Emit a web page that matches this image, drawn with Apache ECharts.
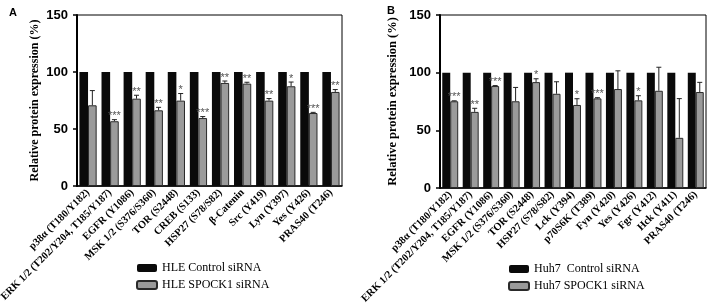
<!DOCTYPE html>
<html>
<head>
<meta charset="utf-8">
<script src="https://cdn.jsdelivr.net/npm/echarts@6/dist/echarts.min.js"></script>
<style>
  html, body { margin: 0; padding: 0; background: #fff; }
  #chart { width: 708px; height: 308px; }
</style>
</head>
<body>
<div id="chart"></div>
<script>
// panel A - HLE
var catsA = ['p38α (T180/Y182)', 'ERK 1/2 (T202/Y204, T185/Y187)', 'EGFR (Y1086)', 'MSK 1/2 (S376/S360)',
  'TOR (S2448)', 'CREB (S133)', 'HSP27 (S78/S82)', 'β-Catenin', 'Src (Y419)', 'Lyn (Y397)', 'Yes (Y426)', 'PRAS40 (T246)']
var ctrlA = [100, 100, 100, 100, 100, 100, 100, 100, 100, 100, 100, 100]
var kdA = [70.8, 56.8, 76.6, 66.4, 74.9, 59.6, 90.4, 89.8, 74.9, 87.5, 64, 82.5]
var errA = [12.9, 1.4, 3.0, 2.6, 6.2, 1.3, 1.7, 1.2, 1.8, 3.7, 0.6, 2.1]
var sigA = ['', '***', '**', '**', '*', '***', '**', '**', '**', '*', '***', '**']

// panel B - Huh7
var catsB = ['p38α (T180/Y182)', 'ERK 1/2 (T202/Y204, T185/Y187)', 'EGFR (Y1086)', 'MSK 1/2 (S376/S360)',
  'TOR (S2448)', 'HSP27 (S78/S82)', 'Lck (Y394)', 'p70S6K (T389)', 'Fyn (Y420)', 'Yes (Y426)',
  'Fgr (Y412)', 'Hck (Y411)', 'PRAS40 (T246)']
var ctrlB = [100, 100, 100, 100, 100, 100, 100, 100, 100, 100, 100, 100, 100]
var kdB = [75.2, 66, 88.4, 75.2, 91.8, 81.7, 72, 77.7, 85.8, 76, 84.3, 43.5, 83.2]
var errB = [0.4, 3.1, 0.4, 12, 2.9, 10.4, 5.4, 0.6, 15.8, 4, 20.4, 34, 8.4]
var sigB = ['***', '**', '***', '', '*', '', '*', '***', '', '*', '', '', '']

var ticks = [0, 50, 100, 150]

var gapPct = 0.22
var serif = '"Liberation Serif", "Times New Roman", serif'
var sans = '"Liberation Sans", Arial, sans-serif'

function errSeries(idx, vals, errs, sigs) {
  return {
    type: 'custom',
    xAxisIndex: idx,
    yAxisIndex: idx,
    z: 5,
    data: vals.map(function (v, i) { return [i, v, v + errs[i]] }),
    renderItem: function (params, api) {
      var band = api.size([1, 0])[0]
      var bw = band * (1 - gapPct) / 2
      var c = api.coord([api.value(0), api.value(1)])
      var t = api.coord([api.value(0), api.value(2)])
      var x = c[0] + bw / 2
      var s = sigs[params.dataIndex]
      var kids = [
        { type: 'line', shape: { x1: x, y1: c[1], x2: x, y2: t[1] }, style: { stroke: '#222', lineWidth: 1 } },
        { type: 'line', shape: { x1: x - 2.5, y1: t[1], x2: x + 2.5, y2: t[1] }, style: { stroke: '#222', lineWidth: 1 } }
      ]
      if (s) {
        kids.push({ type: 'text', x: x, y: t[1] + 2,
          style: { text: s, fill: '#555', font: '11px ' + sans, align: 'center', verticalAlign: 'bottom' } })
      }
      return { type: 'group', children: kids }
    }
  }
}

function yAx(idx, gap, fs) {
  return {
    gridIndex: idx, type: 'value', min: 0, max: 150, interval: 50,
    name: 'Relative protein expression (%)', nameLocation: 'middle', nameGap: gap,
    nameTextStyle: { fontFamily: serif, fontWeight: 'bold', fontSize: fs, color: '#000' },
    axisLine: { show: true, lineStyle: { color: '#000', width: 2 } },
    axisTick: { show: true, length: 4, lineStyle: { color: '#000', width: 1.5 } },
    axisLabel: { fontFamily: sans, fontWeight: 'bold', fontSize: 13, color: '#000', margin: 9,
      formatter: function (v) { return ticks.indexOf(v) >= 0 ? String(v) : '' } },
    splitLine: { show: false }
  }
}

function xAx(idx, cats) {
  return {
    gridIndex: idx, type: 'category', data: cats,
    axisLine: { lineStyle: { color: '#000', width: 1.5 } },
    axisTick: { show: false },
    axisLabel: { interval: 0, rotate: 45, fontFamily: serif, fontWeight: 'bold', fontSize: 10.5, color: '#000', margin: 5 }
  }
}

var chart = echarts.init(document.getElementById('chart'))
chart.setOption({
  animation: false,
  title: [
    { text: 'A', left: 4, top: 2, textStyle: { fontFamily: sans, fontWeight: 'bold', fontSize: 11, color: '#000' } },
    { text: 'B', left: 382, top: 0, textStyle: { fontFamily: sans, fontWeight: 'bold', fontSize: 11, color: '#000' } }
  ],
  grid: [
    { left: 77, top: 15, width: 265, height: 171, show: true, borderColor: '#000', borderWidth: 1,
      containLabel: false, outerBoundsMode: 'none' },
    { left: 440, top: 15, width: 266, height: 173, show: true, borderColor: '#000', borderWidth: 1,
      containLabel: false, outerBoundsMode: 'none' }
  ],
  legend: [
    { left: 131, top: 257, orient: 'vertical', itemWidth: 20, itemHeight: 8, itemGap: 5,
      data: ['HLE Control siRNA', 'HLE SPOCK1 siRNA'],
      textStyle: { fontFamily: serif, fontSize: 12, color: '#000' } },
    { left: 503, top: 258, orient: 'vertical', itemWidth: 20, itemHeight: 8, itemGap: 5,
      data: ['Huh7  Control siRNA', 'Huh7 SPOCK1 siRNA'],
      textStyle: { fontFamily: serif, fontSize: 12, color: '#000' } }
  ],
  xAxis: [xAx(0, catsA), xAx(1, catsB)],
  yAxis: [yAx(0, 36, 12), yAx(1, 41, 12.5)],
  series: [
    { name: 'HLE Control siRNA', type: 'bar', xAxisIndex: 0, yAxisIndex: 0, data: ctrlA,
      barGap: '0%', barCategoryGap: (gapPct * 100) + '%', itemStyle: { color: '#0a0a0a' } },
    { name: 'HLE SPOCK1 siRNA', type: 'bar', xAxisIndex: 0, yAxisIndex: 0, data: kdA,
      itemStyle: { color: '#9b9b9b', borderColor: '#2a2a2a', borderWidth: 1 } },
    errSeries(0, kdA, errA, sigA),
    { name: 'Huh7  Control siRNA', type: 'bar', xAxisIndex: 1, yAxisIndex: 1, data: ctrlB,
      barGap: '0%', barCategoryGap: (gapPct * 100) + '%', itemStyle: { color: '#0a0a0a' } },
    { name: 'Huh7 SPOCK1 siRNA', type: 'bar', xAxisIndex: 1, yAxisIndex: 1, data: kdB,
      itemStyle: { color: '#9b9b9b', borderColor: '#2a2a2a', borderWidth: 1 } },
    errSeries(1, kdB, errB, sigB)
  ]
})
</script>
</body>
</html>
